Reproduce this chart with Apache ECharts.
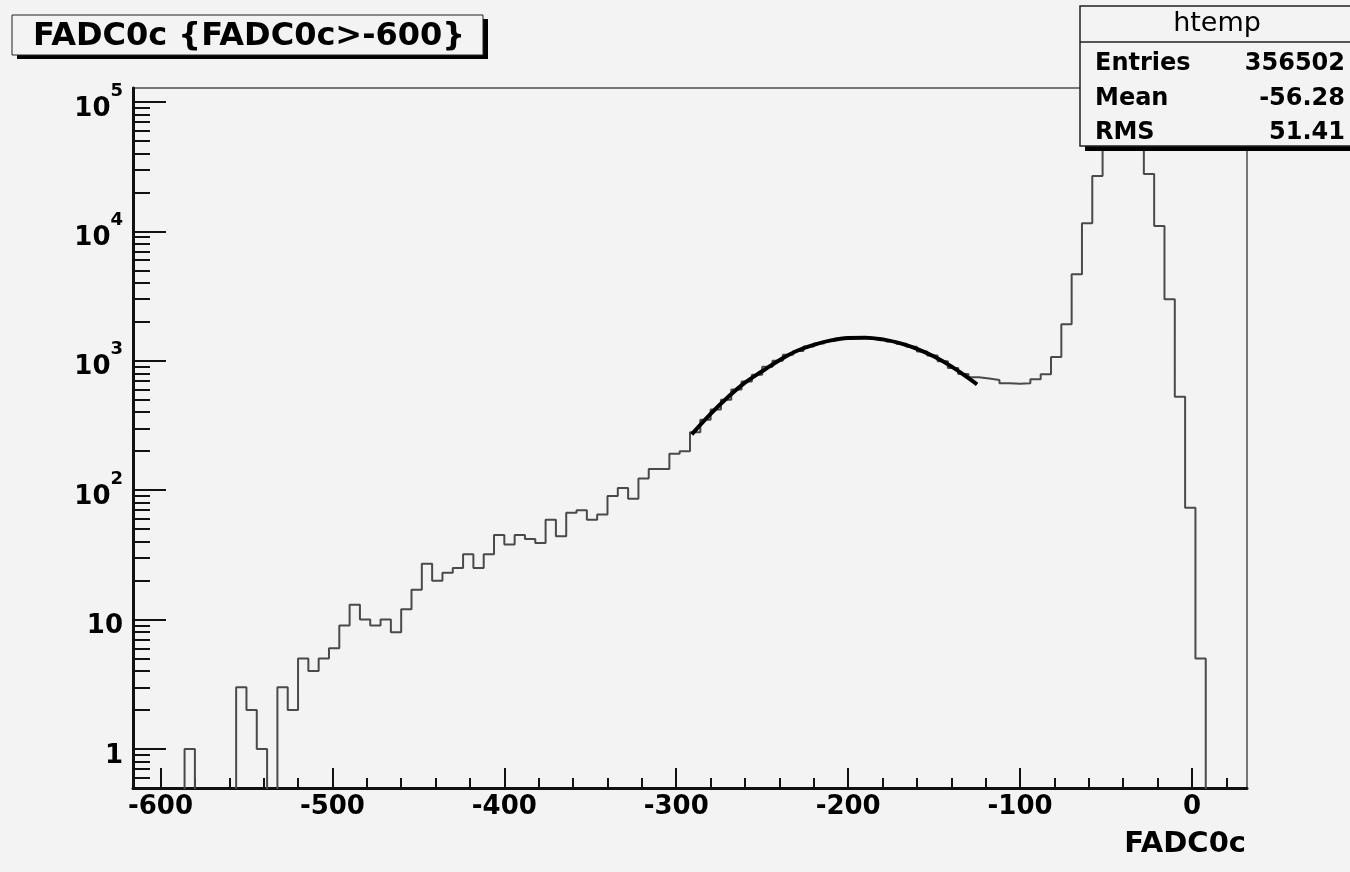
<!DOCTYPE html>
<html>
<head>
<meta charset="utf-8">
<script src="https://cdn.jsdelivr.net/npm/echarts@6.0.0/dist/echarts.min.js"></script>
<style>
  html, body { margin: 0; padding: 0; background: #f3f3f3; }
  #chart { width: 1350px; height: 872px; }
</style>
</head>
<body>
<div id="chart"></div>
<script>
// histogram: 108 bins of width 6 starting at -616
const binStart = -616
const binWidth = 6
const binCounts = [
    0, 0, 0, 0, 0, 1, 0, 0, 0, 0,
    3, 2, 1, 0, 3, 2, 5, 4, 5, 6,
    9, 13, 10, 9, 10, 8, 12, 17, 27, 20,
    23, 25, 32, 25, 32, 45, 38, 45, 42, 39,
    59, 44, 67, 70, 59, 65, 90, 104, 86, 123,
    146, 146, 191, 200, 280, 350, 420, 500, 600, 690,
    780, 900, 1000, 1110, 1190, 1290, 1360, 1420, 1480, 1500,
    1510, 1490, 1470, 1410, 1350, 1280, 1180, 1100, 990, 880,
    790, 745, 730, 710, 669, 665, 669, 718, 785, 1068,
    1910, 4660, 11550, 26800, 48000, 68000, 70000, 50000, 27700, 11000,
    2985, 527, 73, 5, 0, 0, 0, 0
]

// fitted curve
const fitX = [-291, -280, -270, -260, -250, -240, -230, -220, -210, -200, -190, -180, -170, -160, -150, -140, -130, -125]
const fitY = [270, 389, 522, 677, 830, 1010, 1190, 1328, 1436, 1498, 1507, 1462, 1369, 1236, 1077, 904, 733, 656]

// ticks
const xMajorTicks = [-600, -500, -400, -300, -200, -100, 0]
const xMinorTicks = [-580, -560, -540, -520, -480, -460, -440, -420, -380, -360, -340, -320,
    -280, -260, -240, -220, -180, -160, -140, -120, -80, -60, -40, -20, 20]
const yMajorTicks = [1, 10, 100, 1000, 10000, 100000]
const yMinorTicks = [0.6, 0.7, 0.8, 0.9]
for (const d of [1, 10, 100, 1000, 10000]) {
    for (let m = 2; m <= 9; m++) yMinorTicks.push(m * d)
}

const statNames = ['Entries', 'Mean', 'RMS']
const statValues = ['356502', '-56.28', '51.41']

const xMin = -616, xMax = 32
const yMin = 0.5, yMax = 128000
const FONT = '"DejaVu Sans", sans-serif'
const BG = '#f3f3f3'

// step outline points (empty bins drop below the frame and get clipped)
const histPoints = binCounts.map((c, k) => [binStart + k * binWidth, c > 0 ? c : 0.1])
histPoints.push([binStart + binCounts.length * binWidth, 0.1])
const fitPoints = fitX.map((x, i) => [x, fitY[i]])

function yLabel(v){
    const e = Math.round(Math.log10(v))
    if (e === 0) return '{b|1}'
    if (e === 1) return '{b|10}'
    return '{b|10}{sup|' + e + '}'
}

const statElements = []
statNames.forEach((n, i) => {
    const cy = 64 + i * 34.5
    statElements.push({
        type: 'text', x: 1095, y: cy, z: 102,
        style: { text: n, fontFamily: FONT, fontWeight: 'bold', fontSize: 24, fill: '#000',
                 align: 'left', textAlign: 'left', verticalAlign: 'middle', textVerticalAlign: 'middle' }
    })
    statElements.push({
        type: 'text', x: 1345, y: cy, z: 102,
        style: { text: statValues[i], fontFamily: FONT, fontWeight: 'bold', fontSize: 24, fill: '#000',
                 align: 'right', textAlign: 'right', verticalAlign: 'middle', textVerticalAlign: 'middle' }
    })
})

const option = {
    animation: false,
    backgroundColor: BG,
    grid: {
        left: 133, top: 88, right: 103, bottom: 84,
        show: true, borderColor: '#777', borderWidth: 2, backgroundColor: 'transparent'
    },
    xAxis: [{
        type: 'value', min: xMin, max: xMax, position: 'bottom',
        axisLine: { onZero: false, lineStyle: { color: '#111', width: 3 } },
        axisTick: { inside: true, length: 20, customValues: xMajorTicks, lineStyle: { color: '#111', width: 2 } },
        axisLabel: {
            customValues: xMajorTicks, margin: 6,
            color: '#000', fontFamily: FONT, fontWeight: 'bold', fontSize: 26
        },
        splitLine: { show: false },
        name: 'FADC0c', nameLocation: 'end', nameGap: -1,
        nameTextStyle: {
            color: '#000', fontFamily: FONT, fontWeight: 'bold', fontSize: 29,
            align: 'right', verticalAlign: 'top', padding: [42, 0, 0, 0]
        }
    }, {
        type: 'value', min: xMin, max: xMax, position: 'bottom',
        axisLine: { show: false, onZero: false },
        axisTick: { inside: true, length: 10, customValues: xMinorTicks, lineStyle: { color: '#111', width: 2 } },
        axisLabel: { show: false },
        splitLine: { show: false }
    }],
    yAxis: [{
        type: 'log', logBase: 10, min: yMin, max: yMax, position: 'left',
        axisLine: { onZero: false, lineStyle: { color: '#111', width: 3 } },
        axisTick: { inside: true, length: 33, customValues: yMajorTicks, lineStyle: { color: '#111', width: 2 } },
        axisLabel: {
            customValues: yMajorTicks, margin: 10,
            formatter: yLabel,
            rich: {
                b: { color: '#000', fontFamily: FONT, fontWeight: 'bold', fontSize: 26, lineHeight: 40, verticalAlign: 'bottom' },
                sup: { color: '#000', fontFamily: FONT, fontWeight: 'bold', fontSize: 18, lineHeight: 18, verticalAlign: 'top' }
            }
        },
        splitLine: { show: false }
    }, {
        type: 'log', logBase: 10, min: yMin, max: yMax, position: 'left',
        axisLine: { show: false, onZero: false },
        axisTick: { inside: true, length: 17, customValues: yMinorTicks, lineStyle: { color: '#111', width: 2 } },
        axisLabel: { show: false },
        splitLine: { show: false }
    }],
    series: [{
        name: 'htemp',
        type: 'line',
        xAxisIndex: 0, yAxisIndex: 0,
        step: 'end',
        showSymbol: false,
        clip: true,
        lineStyle: { color: '#4a4a4a', width: 2 },
        data: histPoints,
        z: 2
    }, {
        name: 'fit',
        type: 'line',
        xAxisIndex: 0, yAxisIndex: 0,
        smooth: 0.4,
        showSymbol: false,
        lineStyle: { color: '#000', width: 4 },
        data: fitPoints,
        z: 3
    }],
    graphic: { elements: [
        // title box with shadow
        { type: 'rect', z: 100, shape: { x: 17, y: 19, width: 471, height: 40 }, style: { fill: '#000' } },
        { type: 'rect', z: 101, shape: { x: 12, y: 15, width: 471, height: 40 }, style: { fill: BG, stroke: '#222', lineWidth: 1 } },
        { type: 'text', z: 102, x: 249, y: 37,
          style: { text: 'FADC0c {FADC0c>-600}', fontFamily: FONT, fontWeight: 'bold', fontSize: 32, fill: '#000',
                   align: 'center', textAlign: 'center', verticalAlign: 'middle', textVerticalAlign: 'middle' } },
        // stats box
        { type: 'rect', z: 100, shape: { x: 1085, y: 11, width: 300, height: 140 }, style: { fill: '#000' } },
        { type: 'rect', z: 101, shape: { x: 1080, y: 6, width: 300, height: 140 }, style: { fill: BG, stroke: '#222', lineWidth: 1.5 } },
        { type: 'line', z: 102, shape: { x1: 1080, y1: 42, x2: 1350, y2: 42 }, style: { stroke: '#222', lineWidth: 1.5 } },
        { type: 'text', z: 102, x: 1217, y: 24,
          style: { text: 'htemp', fontFamily: FONT, fontWeight: 'normal', fontSize: 27, fill: '#000',
                   align: 'center', textAlign: 'center', verticalAlign: 'middle', textVerticalAlign: 'middle' } },
        ...statElements
    ] }
}

const chart = echarts.init(document.getElementById('chart'))
chart.setOption(option)
window.onresize = () => { chart.resize() }
</script>
</body>
</html>
